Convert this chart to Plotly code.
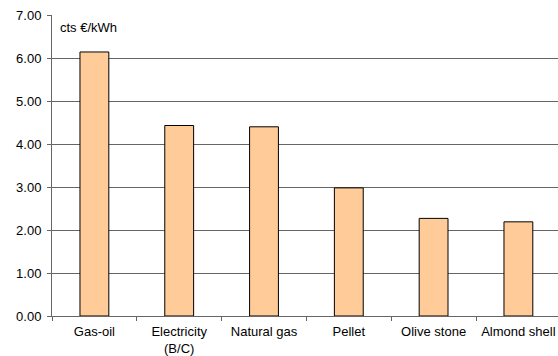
import plotly.graph_objects as go

# Heating cost per fuel, in euro cents per kWh
fuels = ["Gas-oil", "Electricity<br>(B/C)", "Natural gas", "Pellet", "Olive stone", "Almond shell"]
cost = [6.14, 4.43, 4.40, 2.98, 2.27, 2.19]
y_ticks = [0, 1, 2, 3, 4, 5, 6, 7]
y_tick_text = ["0.00", "1.00", "2.00", "3.00", "4.00", "5.00", "6.00", "7.00"]

FONT = "Liberation Sans, Arial, sans-serif"
GRID = "#666666"

fig = go.Figure(
    go.Bar(
        x=fuels,
        y=cost,
        width=0.34,
        marker=dict(color="#FFCC99", line=dict(color="#000000", width=1)),
        hoverinfo="x+y",
    )
)

fig.update_layout(
    width=558,
    height=356,
    margin=dict(l=52, r=0, t=15, b=40),
    paper_bgcolor="white",
    plot_bgcolor="white",
    showlegend=False,
    font=dict(family=FONT, size=13, color="#000000"),
    annotations=[
        dict(
            text="cts €/kWh",
            xref="paper", yref="paper",
            x=0.012, y=1, xanchor="left", yanchor="top",
            yshift=-3,
            showarrow=False,
            font=dict(family=FONT, size=13, color="#000000"),
        )
    ],
)

fig.update_xaxes(
    type="category",
    range=[-0.5, 5.467],
    automargin=False,
    showgrid=False,
    showline=True,
    linecolor=GRID,
    linewidth=1,
    ticks="outside",
    tickson="boundaries",
    ticklen=4,
    tickcolor=GRID,
    ticklabelstandoff=3,
    tickfont=dict(family=FONT, size=13, color="#000000"),
    fixedrange=True,
)

fig.update_yaxes(
    range=[0, 7],
    automargin=False,
    tickvals=y_ticks,
    ticktext=y_tick_text,
    showgrid=True,
    gridcolor=GRID,
    gridwidth=1,
    zeroline=False,
    showline=True,
    linecolor=GRID,
    linewidth=1,
    ticks="outside",
    ticklen=4,
    tickcolor=GRID,
    ticklabelstandoff=3,
    tickfont=dict(family=FONT, size=13, color="#000000"),
    fixedrange=True,
)

fig.write_html("out.html")
